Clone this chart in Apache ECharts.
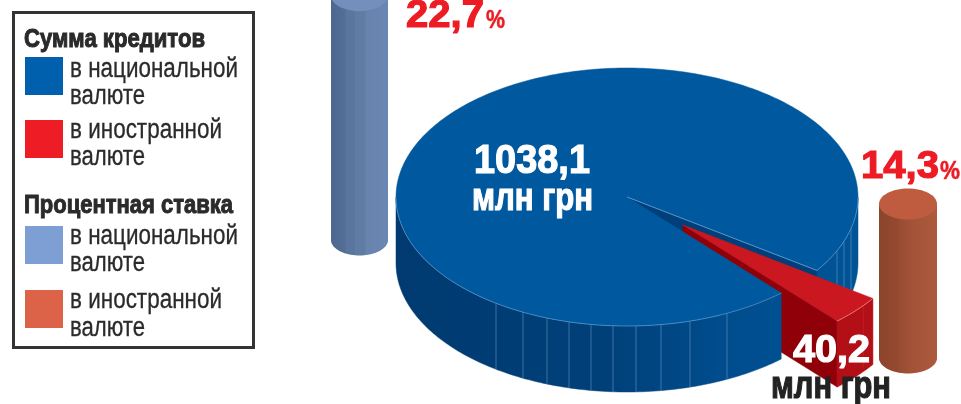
<!DOCTYPE html>
<html>
<head>
<meta charset="utf-8">
<style>
html, body { margin: 0; padding: 0; background: #fff; }
#main { width: 961px; height: 404px; }
</style>
<script src="https://cdn.jsdelivr.net/npm/echarts@6/dist/echarts.min.js"></script>
</head>
<body>
<div id="main"></div>
<script>
// суммы кредитов, млн грн
var creditNames = ['в национальной валюте', 'в иностранной валюте'];
var creditValues = [1038.1, 40.2];
// процентные ставки, %
var rateNames = ['в национальной валюте', 'в иностранной валюте'];
var rateValues = [22.7, 14.3];

var legendTitles = ['Сумма кредитов', 'Процентная ставка'];
var unitLabel = 'млн грн';

var NARROW = '"Liberation Sans Narrow", "Liberation Sans", sans-serif';
var measureCtx = document.createElement('canvas').getContext('2d');

function fmt(v) {
  return v.toFixed(1).replace('.', ',');
}

// подгоняем ширину текста под макет через scaleX
function fitText(x, baseline, str, size, width, color, bold, stroke) {
  var font = (bold ? 'bold ' : '') + size + 'px ' + NARROW;
  measureCtx.font = font;
  var w = measureCtx.measureText(str).width;
  return {
    type: 'text',
    x: x,
    y: baseline - size * 0.345 + 2.5,
    scaleX: width / w,
    z: 10,
    silent: true,
    style: {
      text: str,
      x: 0,
      y: 0,
      fill: color,
      font: font,
      textAlign: 'left',
      textVerticalAlign: 'middle',
      stroke: stroke ? color : null,
      lineWidth: stroke || 0
    }
  };
}

function legendElements() {
  var dark = '#2b2a2b';
  var items = [
    { type: 'rect', shape: { x: 13.5, y: 12.5, width: 240, height: 335 }, style: { fill: '#fff', stroke: '#333', lineWidth: 3 } }
  ];
  function swatch(y, color) {
    items.push({ type: 'rect', shape: { x: 25, y: y, width: 38, height: 38 }, style: { fill: color } });
  }
  swatch(57, '#0060ae');
  swatch(120, '#ee1c25');
  swatch(226, '#7d9fd3');
  swatch(290, '#dc6348');

  items.push(fitText(24, 46, legendTitles[0], 26, 181, dark, true, 1));
  items.push(fitText(24, 212, legendTitles[1], 26, 209, dark, true, 1));

  var first = creditNames[0].split(' ');
  var second = creditNames[1].split(' ');
  var l1 = first[0] + ' ' + first[1], l2 = second[0] + ' ' + second[1], l3 = first[2];
  items.push(fitText(70, 76, l1, 27, 168, dark, false, 0.3));
  items.push(fitText(70, 103, l3, 27, 75, dark, false, 0.3));
  items.push(fitText(70, 137, l2, 27, 152, dark, false, 0.3));
  items.push(fitText(70, 164, l3, 27, 75, dark, false, 0.3));
  items.push(fitText(70, 243, l1, 27, 168, dark, false, 0.3));
  items.push(fitText(70, 270, l3, 27, 75, dark, false, 0.3));
  items.push(fitText(70, 307, l2, 27, 152, dark, false, 0.3));
  items.push(fitText(70, 335, l3, 27, 75, dark, false, 0.3));
  return items;
}

// объёмный эллиптический пирог, стандартный pie так не умеет
function renderPie(params, api) {
  if (params.dataIndex !== 0) return;
  var cx = 627, cy = 197, rx = 231, ry = 129, depth = 66;
  var dx = 56, dy = 28;
  var total = creditValues[0] + creditValues[1];
  var start = 34.7;
  var end = start + creditValues[1] / total * 360;

  function pt(a, d, ox, oy) {
    var r = a * Math.PI / 180;
    return [cx + (ox || 0) + rx * Math.cos(r), cy + (oy || 0) + ry * Math.sin(r) + (d || 0)];
  }
  function arc(a, b, d, ox, oy) {
    var res = [];
    var n = Math.ceil(Math.abs(b - a));
    for (var i = 0; i <= n; i++) {
      res.push(pt(a + (b - a) * i / n, d, ox, oy));
    }
    return res;
  }
  function poly(points, fill, stroke) {
    return { type: 'polygon', shape: { points: points }, style: { fill: fill, stroke: stroke || fill, lineWidth: stroke ? 1 : 0.5 } };
  }
  function line(a, b, color) {
    return { type: 'line', shape: { x1: a[0], y1: a[1], x2: b[0], y2: b[1] }, style: { stroke: color, lineWidth: 1 } };
  }
  function rim(a, b, ox, oy) {
    return arc(a, b, 0, ox, oy).concat(arc(b, a, depth, ox, oy));
  }
  function rimLine(x) {
    var a = Math.acos((x - cx) / rx) * 180 / Math.PI;
    return line(pt(a), pt(a, depth), 'rgba(120,165,210,0.5)');
  }

  var rimFill = new echarts.graphic.LinearGradient(396, 0, 857, 0, [
    { offset: 0, color: '#003a70' },
    { offset: 0.45, color: '#004079' },
    { offset: 0.7, color: '#004c8c' },
    { offset: 1, color: '#005496' }
  ], true);

  var children = [];
  var center = [cx, cy];
  var centerLow = [cx, cy + depth];

  // правая часть боковины и внутренняя стенка выреза
  children.push(poly(rim(0, start), rimFill));
  [837, 844, 851].forEach(function (x) { children.push(rimLine(x)); });
  children.push(poly([center, pt(start), pt(start, depth), centerLow], '#003f7a'));

  // красный сектор, смещён наружу
  var apex = [cx + dx, cy + dy];
  children.push(poly([apex, pt(end, 0, dx, dy), pt(end, depth, dx, dy), [apex[0], apex[1] + depth]], '#8f0008'));
  children.push(poly(rim(start, end, dx, dy), '#b30f17'));
  children.push(line(pt(start + 4, 0, dx, dy), pt(start + 4, depth - 4, dx, dy), '#c81a22'));
  children.push(line(pt(end, 0, dx, dy), pt(end, depth, dx, dy), '#a5101a'));
  children.push(poly([apex].concat(arc(start, end, 0, dx, dy)), '#cb1820'));
  children.push({ type: 'polyline', shape: { points: arc(start, end, 0, dx, dy) }, style: { stroke: '#e58a8a', lineWidth: 0.8, fill: null } });

  // передняя часть боковины перекрывает красный сектор
  children.push(poly(rim(end, 180), rimFill));
  [496, 523, 547, 569, 591, 613, 636, 661, 690, 727].forEach(function (x) { children.push(rimLine(x)); });

  // верх большого сектора
  children.push(poly([center].concat(arc(end, 360 + start, 0)), '#00599f'));
  children.push({ type: 'polyline', shape: { points: arc(end, 180, 0) }, style: { stroke: 'rgba(140,185,225,0.6)', lineWidth: 0.8, fill: null } });
  children.push({ type: 'polyline', shape: { points: arc(0, start, 0) }, style: { stroke: 'rgba(140,185,225,0.6)', lineWidth: 0.8, fill: null } });
  children.push(line(center, pt(start), 'rgba(120,170,215,0.7)'));

  // подписи
  children.push(fitText(474, 173, fmt(creditValues[0]), 41, 116, '#fff', true, 1.2));
  children.push(fitText(472, 210, unitLabel, 38, 121, '#fff', true, 1.2));
  children.push(fitText(793, 362, fmt(creditValues[1]), 38, 77, '#fff', true, 1.2));
  children.push(fitText(771, 398, unitLabel, 38, 120, '#222', true, 1.2));

  return { type: 'group', children: children };
}

function cylinderSeries(gridIndex, value, stops, capColor, textX, textW, pctX, pctW, baseline) {
  return {
    type: 'custom',
    xAxisIndex: gridIndex,
    yAxisIndex: gridIndex,
    clip: false,
    silent: true,
    encode: { x: 0, y: 1 },
    data: [[0, value]],
    renderItem: function (params, api) {
      var base = api.coord([api.value(0), 0]);
      var top = api.coord([api.value(0), api.value(1)]);
      var w = api.size([1, 0])[0];
      var rx = w / 2, ry = 15.5;
      var pts = [[base[0] - rx, top[1]]];
      pts.push([base[0] - rx, base[1]]);
      for (var i = 1; i < 40; i++) {
        var a = Math.PI - Math.PI * i / 40;
        pts.push([base[0] + rx * Math.cos(a), base[1] + ry * Math.sin(a)]);
      }
      pts.push([base[0] + rx, base[1]]);
      pts.push([base[0] + rx, top[1]]);
      return {
        type: 'group',
        children: [
          {
            type: 'polygon',
            shape: { points: pts },
            style: { fill: new echarts.graphic.LinearGradient(0, 0, 1, 0, stops) }
          },
          {
            type: 'ellipse',
            shape: { cx: base[0], cy: top[1], rx: rx, ry: ry },
            style: { fill: capColor }
          },
          fitText(textX, baseline, fmt(api.value(1)), 39, textW, '#ed1c24', true, 1.2),
          fitText(pctX, baseline, '%', 25, pctW, '#ed1c24', true, 0.5)
        ]
      };
    }
  };
}

var blueStops = [
  { offset: 0, color: '#4d6890' },
  { offset: 0.25, color: '#536e97' },
  { offset: 0.26, color: '#5a759e' },
  { offset: 0.42, color: '#5a759e' },
  { offset: 0.43, color: '#607ba4' },
  { offset: 0.6, color: '#607ba4' },
  { offset: 0.61, color: '#6883ae' },
  { offset: 1, color: '#6a86b2' }
];
var brownStops = [
  { offset: 0, color: '#8c452c' },
  { offset: 0.3, color: '#94492f' },
  { offset: 0.4, color: '#9b4e33' },
  { offset: 0.6, color: '#a45338' },
  { offset: 1, color: '#ad5a3d' }
];

var myChart = echarts.init(document.getElementById('main'), null, { renderer: 'canvas' });
myChart.setOption({
  animation: false,
  backgroundColor: '#fff',
  tooltip: { show: false },
  graphic: { elements: legendElements() },
  // у обоих столбиков один масштаб, основания на разной высоте
  grid: [
    { left: 331, width: 57, top: 0, height: 240 },
    { left: 879, width: 58, top: 118, height: 240 }
  ],
  xAxis: [
    { gridIndex: 0, type: 'category', data: [rateNames[0]], show: false },
    { gridIndex: 1, type: 'category', data: [rateNames[1]], show: false }
  ],
  yAxis: [
    { gridIndex: 0, type: 'value', min: 0, max: 22.3, show: false },
    { gridIndex: 1, type: 'value', min: 0, max: 22.3, show: false }
  ],
  series: [
    cylinderSeries(0, rateValues[0], blueStops, '#7390bc', 406, 78, 486, 19, 27),
    cylinderSeries(1, rateValues[1], brownStops, '#bf5c40', 861, 78, 940, 20, 178),
    {
      type: 'custom',
      coordinateSystem: 'none',
      silent: true,
      data: creditValues,
      renderItem: renderPie
    }
  ]
});
</script>
</body>
</html>
